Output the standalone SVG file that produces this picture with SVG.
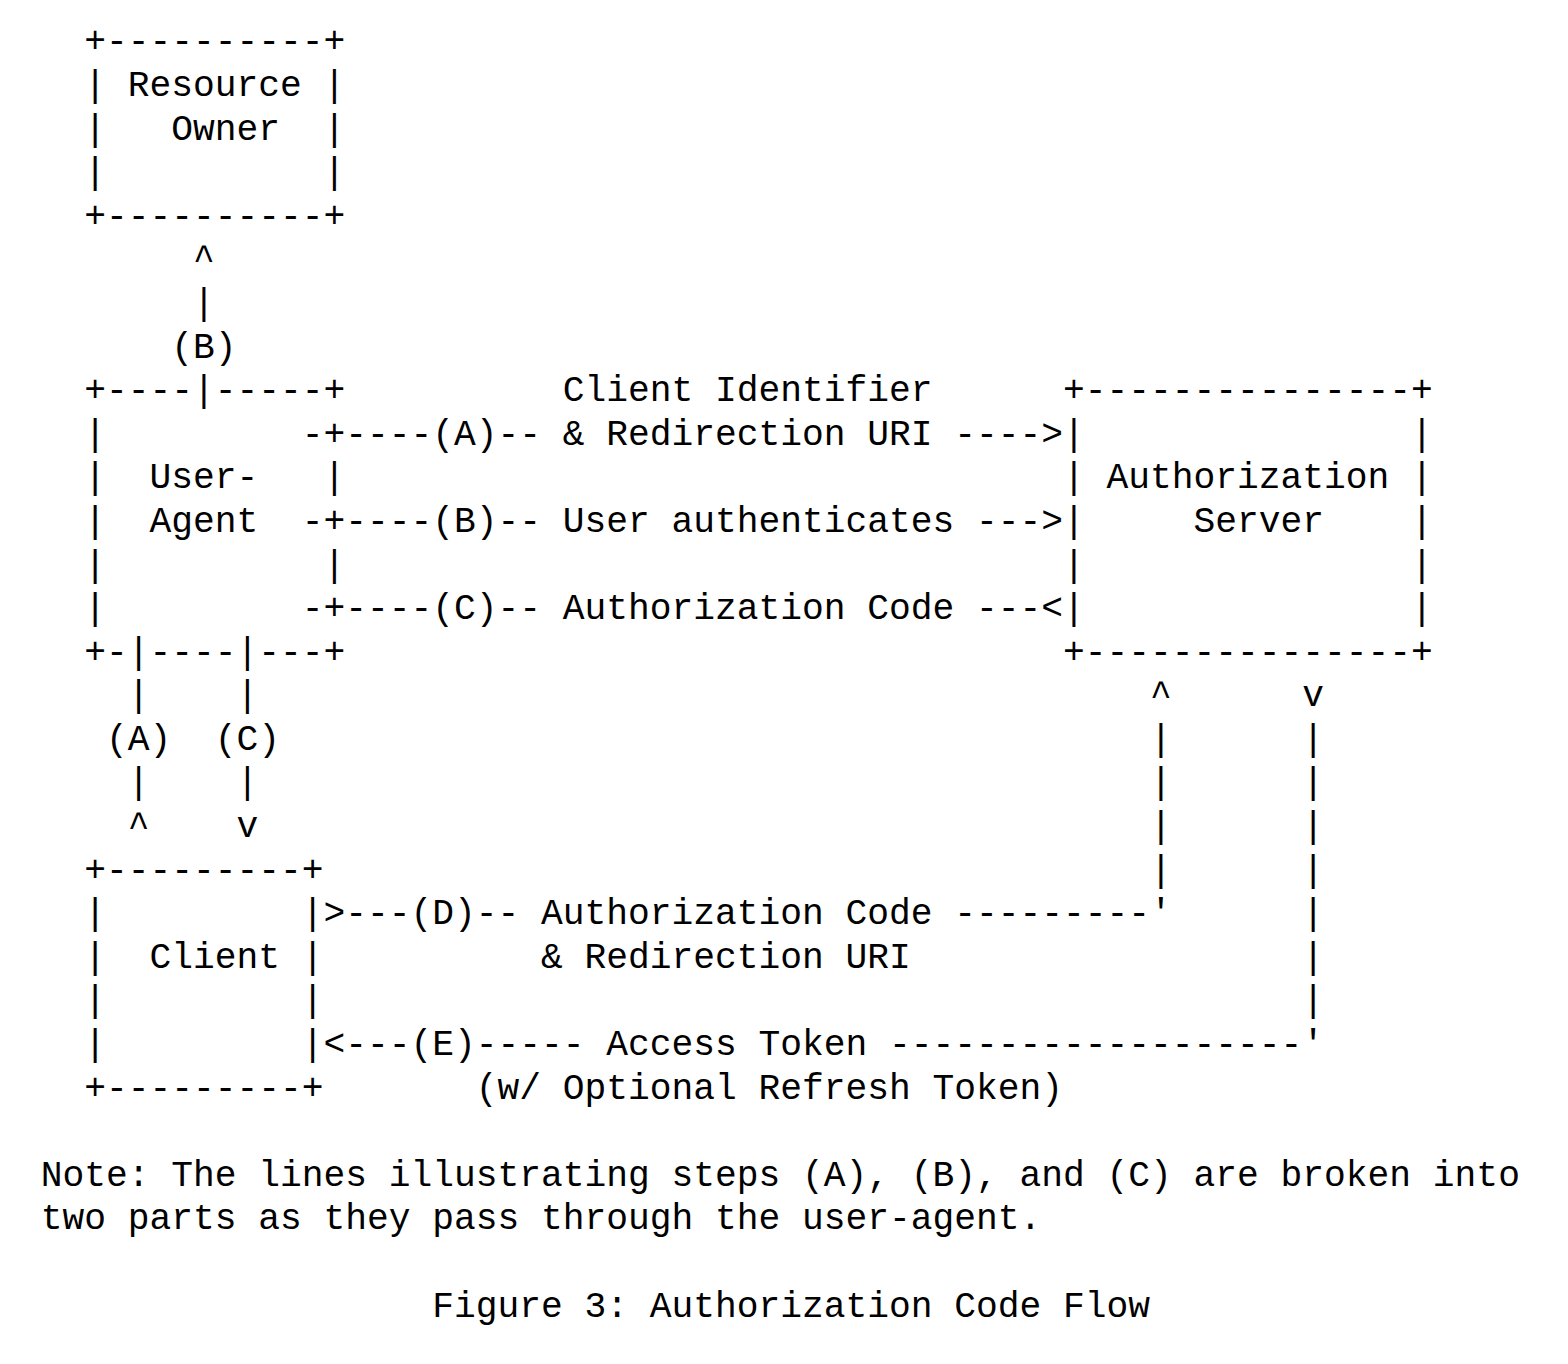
<svg xmlns="http://www.w3.org/2000/svg" width="1568" height="1364" viewBox="0 0 1568 1364">
<style>
text{font-family:"Liberation Mono","DejaVu Sans Mono",monospace;font-size:36.25px;fill:#000}
</style>
<rect x="0" y="0" width="1568" height="1364" fill="#fff"/>
<g id="resource-owner">
<text x="84.15" y="52.4">+----------+</text>
<text x="84.15" y="96">| Resource |</text>
<text x="84.15" y="139.6">|</text><text x="171.15" y="139.6">Owner</text><text x="323.4" y="139.6">|</text>
<text x="84.15" y="183.2">|</text><text x="323.4" y="183.2">|</text>
<text x="84.15" y="226.8">+----------+</text>
</g>
<g id="user-agent">
<text x="84.15" y="401.1">+----|-----+</text>
<text x="84.15" y="444.7">|</text><text x="301.65" y="444.7">-+</text>
<text x="84.15" y="488.3">|</text><text x="149.4" y="488.3">User-</text><text x="323.4" y="488.3">|</text>
<text x="84.15" y="531.9">|</text><text x="149.4" y="531.9">Agent</text><text x="301.65" y="531.9">-+</text>
<text x="84.15" y="575.5">|</text><text x="323.4" y="575.5">|</text>
<text x="84.15" y="619.1">|</text><text x="301.65" y="619.1">-+</text>
<text x="84.15" y="662.7">+-|----|---+</text>
</g>
<g id="authorization-server">
<text x="1062.9" y="401.1">+---------------+</text>
<text x="1062.9" y="444.7">|</text><text x="1410.9" y="444.7">|</text>
<text x="1062.9" y="488.3">| Authorization |</text>
<text x="1062.9" y="531.9">|</text><text x="1193.4" y="531.9">Server</text><text x="1410.9" y="531.9">|</text>
<text x="1062.9" y="575.5">|</text><text x="1410.9" y="575.5">|</text>
<text x="1062.9" y="619.1">|</text><text x="1410.9" y="619.1">|</text>
<text x="1062.9" y="662.7">+---------------+</text>
</g>
<g id="client">
<text x="84.15" y="880.6">+---------+</text>
<text x="84.15" y="924.2">|</text><text x="301.65" y="924.2">|</text>
<text x="84.15" y="967.8">|</text><text x="149.4" y="967.8">Client</text><text x="301.65" y="967.8">|</text>
<text x="84.15" y="1011.4">|</text><text x="301.65" y="1011.4">|</text>
<text x="84.15" y="1055">|</text><text x="301.65" y="1055">|</text>
<text x="84.15" y="1098.6">+---------+</text>
</g>
<g id="connectors">
<text x="192.9" y="270.4">^</text>
<text x="192.9" y="313.9">|</text>
<text x="171.15" y="357.5">(B)</text>
<text x="562.65" y="401.1">Client Identifier</text>
<text x="345.15" y="444.7">----(A)-- &amp; Redirection URI ----&gt;</text>
<text x="345.15" y="531.9">----(B)-- User authenticates ---&gt;</text>
<text x="345.15" y="619.1">----(C)-- Authorization Code ---&lt;</text>
<text x="127.65" y="706.3">|</text><text x="236.4" y="706.3">|</text>
<text x="105.9" y="749.8">(A)</text><text x="214.65" y="749.8">(C)</text>
<text x="127.65" y="793.4">|</text><text x="236.4" y="793.4">|</text>
<text x="127.65" y="837">^</text><text x="236.4" y="837">v</text>
<text x="1149.9" y="706.3">^</text><text x="1302.15" y="706.3">v</text>
<text x="1149.9" y="749.8">|</text><text x="1302.15" y="749.8">|</text>
<text x="1149.9" y="793.4">|</text><text x="1302.15" y="793.4">|</text>
<text x="1149.9" y="837">|</text><text x="1302.15" y="837">|</text>
<text x="1149.9" y="880.6">|</text><text x="1302.15" y="880.6">|</text>
<text x="323.4" y="924.2">&gt;---(D)-- Authorization Code ---------'</text><text x="1302.15" y="924.2">|</text>
<text x="540.9" y="967.8">&amp; Redirection URI</text><text x="1302.15" y="967.8">|</text>
<text x="1302.15" y="1011.4">|</text>
<text x="323.4" y="1055">&lt;---(E)----- Access Token -------------------'</text>
<text x="475.65" y="1098.6">(w/ Optional Refresh Token)</text>
</g>
<g id="note">
<text x="40.65" y="1185.7">Note: The lines illustrating steps (A), (B), and (C) are broken into</text>
<text x="40.65" y="1229.3">two parts as they pass through the user-agent.</text>
</g>
<g id="caption">
<text x="432.15" y="1316.5">Figure 3: Authorization Code Flow</text>
</g>
</svg>
